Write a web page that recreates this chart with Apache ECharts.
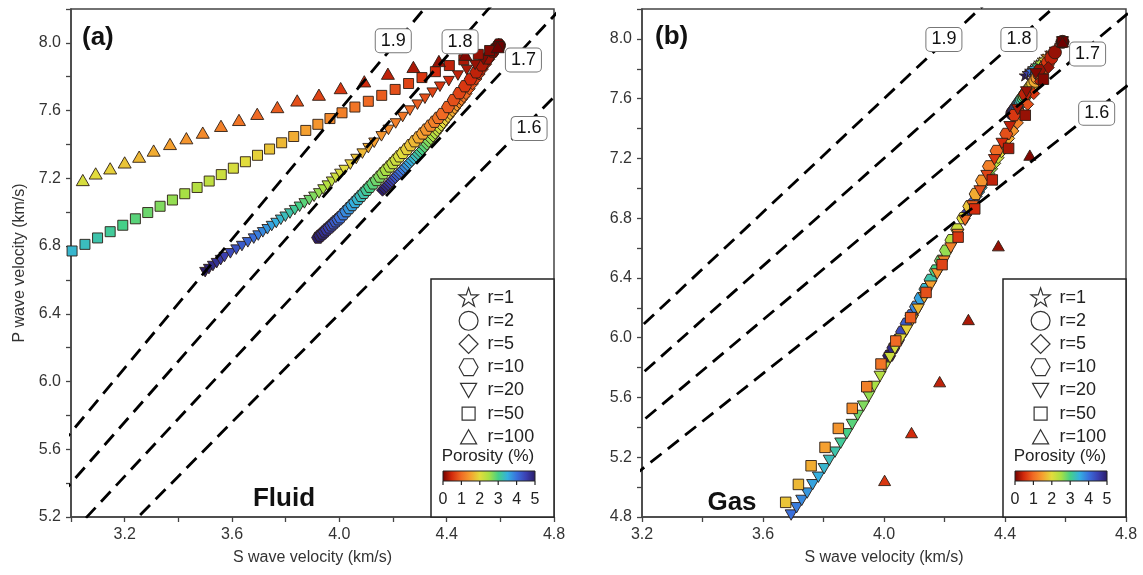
<!DOCTYPE html>
<html><head><meta charset="utf-8">
<script src="https://cdn.jsdelivr.net/npm/echarts/dist/echarts.min.js"></script>
<style>html,body{margin:0;padding:0;background:#fff}#c{width:1143px;height:575px}</style>
</head><body><div id="c"></div><script>
// ---------- colour scale (porosity 0 .. 5 %) ----------
const porosityColors = ['#6e0000','#d32a0c','#f06a24','#f5a030','#e2dc3c','#a8e044','#45d088','#34b0e0','#3a6fdc','#3b3fb0','#2a1c66'];
const porosityTicks = [0,1,2,3,4,5];
const seriesNames = ['r=1','r=2','r=5','r=10','r=20','r=50','r=100'];
const ratioLabels = ['1.9','1.8','1.7','1.6'];

// ---------- Vp/Vs guide lines (endpoints [Vs, Vp]) ----------
const fluidRatioLines = [
  [[2.7,5.13],[4.4,8.36]],
  [[2.8,5.04],[4.6,8.28]],
  [[3.0,5.10],[4.9,8.33]],
  [[3.2,5.12],[5.2,8.32]]
];
const gasRatioLines = [
  [[3.1,5.89],[4.4,8.36]],
  [[3.1,5.58],[4.6,8.28]],
  [[3.1,5.27],[4.9,8.33]],
  [[3.0,4.80],[5.2,8.32]]
];
const fluidLabelPos = [[4.201,8.012],[4.450,8.007],[4.686,7.899],[4.707,7.495]];
const gasLabelPos   = [[4.198,7.996],[4.446,7.996],[4.673,7.899],[4.703,7.502]];

// ---------- data: [Vs, Vp, porosity] ----------
const fluidR1 = [[4.595,7.985,0]];
const fluidR2 = [[4.595,7.985,0]];
const fluidR5 = [
[4.161,7.130,5.0],[4.168,7.141,4.9],[4.175,7.152,4.8],[4.182,7.163,4.7],[4.189,7.174,4.6],[4.196,7.185,4.5],
[4.202,7.196,4.4],[4.209,7.207,4.3],[4.216,7.218,4.2],[4.223,7.229,4.1],[4.230,7.240,4.0],
[4.238,7.253,3.9],[4.246,7.266,3.8],[4.254,7.279,3.7],[4.262,7.292,3.6],[4.270,7.305,3.5],
[4.278,7.318,3.4],[4.286,7.331,3.3],[4.294,7.344,3.2],[4.302,7.357,3.1],[4.310,7.370,3.0],
[4.318,7.386,2.9],[4.326,7.402,2.8],[4.333,7.418,2.7],[4.341,7.434,2.6],[4.349,7.450,2.5],
[4.357,7.466,2.4],[4.365,7.482,2.3],[4.372,7.498,2.2],[4.380,7.514,2.1],[4.388,7.530,2.0],
[4.396,7.547,1.9],[4.405,7.564,1.8],[4.413,7.581,1.7],[4.422,7.598,1.6],[4.430,7.615,1.5],
[4.438,7.632,1.4],[4.447,7.649,1.3],[4.455,7.666,1.2],[4.464,7.683,1.1],[4.472,7.700,1.0],
[4.484,7.729,0.9],[4.496,7.758,0.8],[4.509,7.787,0.7],[4.521,7.816,0.6],[4.533,7.845,0.5],
[4.545,7.874,0.4],[4.557,7.903,0.3],[4.570,7.932,0.2],[4.582,7.961,0.1],[4.594,7.990,0.0]];
const fluidR10 = [
[3.921,6.850,5.0],[3.929,6.862,4.9],[3.938,6.874,4.8],[3.946,6.886,4.7],[3.954,6.898,4.6],[3.963,6.910,4.5],
[3.971,6.922,4.4],[3.979,6.934,4.3],[3.987,6.946,4.2],[3.996,6.958,4.1],[4.004,6.970,4.0],
[4.015,6.988,3.9],[4.026,7.006,3.8],[4.037,7.024,3.7],[4.048,7.042,3.6],[4.059,7.060,3.5],
[4.070,7.078,3.4],[4.081,7.096,3.3],[4.092,7.114,3.2],[4.103,7.132,3.1],[4.114,7.150,3.0],
[4.126,7.170,2.9],[4.139,7.190,2.8],[4.151,7.210,2.7],[4.163,7.230,2.6],[4.175,7.250,2.5],
[4.188,7.270,2.4],[4.200,7.290,2.3],[4.212,7.310,2.2],[4.224,7.330,2.1],[4.237,7.350,2.0],
[4.252,7.373,1.9],[4.266,7.396,1.8],[4.281,7.419,1.7],[4.296,7.442,1.6],[4.311,7.465,1.5],
[4.325,7.488,1.4],[4.340,7.511,1.3],[4.355,7.534,1.2],[4.369,7.557,1.1],[4.384,7.580,1.0],
[4.405,7.621,0.9],[4.426,7.662,0.8],[4.447,7.703,0.7],[4.468,7.744,0.6],[4.489,7.785,0.5],
[4.510,7.826,0.4],[4.531,7.867,0.3],[4.552,7.908,0.2],[4.573,7.949,0.1],[4.594,7.990,0.0]];
const fluidR20 = [
[3.500,6.646,5.0],[3.514,6.664,4.9],[3.529,6.682,4.8],[3.543,6.699,4.7],[3.558,6.717,4.6],[3.572,6.735,4.5],
[3.594,6.757,4.4],[3.616,6.779,4.3],[3.637,6.800,4.2],[3.659,6.822,4.1],[3.681,6.844,4.0],
[3.698,6.862,3.9],[3.715,6.881,3.8],[3.732,6.899,3.7],[3.748,6.918,3.6],[3.765,6.936,3.5],
[3.782,6.955,3.4],[3.799,6.973,3.3],[3.816,6.992,3.2],[3.834,7.012,3.1],[3.852,7.032,3.0],
[3.870,7.052,2.9],[3.888,7.071,2.8],[3.906,7.091,2.7],[3.924,7.111,2.6],[3.940,7.134,2.5],
[3.956,7.157,2.4],[3.972,7.180,2.3],[3.987,7.203,2.2],[4.003,7.226,2.1],[4.019,7.249,2.0],
[4.041,7.281,1.9],[4.063,7.314,1.8],[4.086,7.346,1.7],[4.108,7.378,1.6],[4.130,7.410,1.5],
[4.157,7.448,1.4],[4.183,7.486,1.3],[4.210,7.524,1.2],[4.236,7.562,1.1],[4.263,7.600,1.0],
[4.291,7.635,0.9],[4.319,7.670,0.8],[4.347,7.706,0.7],[4.375,7.741,0.6],[4.408,7.774,0.5],
[4.442,7.807,0.4],[4.475,7.840,0.3],[4.506,7.870,0.2],[4.537,7.900,0.1],[4.585,7.965,0.0]];
const fluidR50 = [
[3.004,6.771,3.4],[3.052,6.810,3.3],[3.099,6.848,3.2],[3.146,6.885,3.1],[3.193,6.923,3.0],
[3.240,6.961,2.9],[3.286,6.998,2.8],[3.332,7.035,2.7],[3.378,7.072,2.6],[3.424,7.109,2.5],
[3.470,7.146,2.4],[3.515,7.184,2.3],[3.560,7.222,2.2],[3.605,7.260,2.1],[3.650,7.298,2.0],
[3.695,7.336,1.9],[3.740,7.373,1.8],[3.785,7.410,1.7],[3.830,7.447,1.6],[3.875,7.483,1.5],
[3.920,7.519,1.4],[3.965,7.553,1.3],[4.010,7.587,1.2],[4.058,7.621,1.1],[4.108,7.655,1.0],
[4.158,7.690,0.9],[4.208,7.725,0.8],[4.258,7.760,0.7],[4.308,7.795,0.6],[4.358,7.830,0.5],
[4.410,7.866,0.4],[4.464,7.900,0.3],[4.518,7.932,0.2],[4.560,7.955,0.1],[4.595,7.978,0.0]];
const fluidR100 = [
[3.044,7.190,2.1],[3.092,7.229,2.0],[3.146,7.259,1.9],[3.200,7.294,1.8],[3.254,7.328,1.7],
[3.308,7.364,1.6],[3.369,7.403,1.5],[3.430,7.437,1.4],[3.491,7.470,1.3],[3.559,7.510,1.2],
[3.626,7.545,1.1],[3.694,7.581,1.0],[3.769,7.621,0.9],[3.843,7.660,0.8],[3.924,7.694,0.7],
[4.005,7.733,0.6],[4.093,7.773,0.5],[4.181,7.818,0.4],[4.276,7.858,0.3],[4.371,7.893,0.2],
[4.470,7.930,0.1],[4.590,7.975,0.0]];

const gasR1 = [
[4.467,7.756,5.0],[4.476,7.772,4.5],[4.485,7.788,4.0],[4.495,7.805,3.5],[4.505,7.823,3.0],[4.515,7.842,2.5],
[4.526,7.862,2.0],[4.538,7.884,1.5],[4.551,7.908,1.0],[4.566,7.935,0.5],[4.590,7.980,0.0]];
const gasR2 = [
[4.424,7.500,5.0],[4.427,7.509,4.8],[4.430,7.518,4.6],[4.434,7.528,4.4],[4.437,7.538,4.2],[4.441,7.548,4.0],
[4.444,7.559,3.8],[4.448,7.570,3.6],[4.452,7.582,3.4],[4.456,7.594,3.2],[4.461,7.607,3.0],
[4.465,7.620,2.8],[4.470,7.634,2.6],[4.475,7.649,2.4],[4.481,7.665,2.2],[4.487,7.682,2.0],
[4.493,7.700,1.8],[4.500,7.719,1.6],[4.507,7.740,1.4],[4.514,7.762,1.2],[4.523,7.786,1.0],
[4.532,7.812,0.8],[4.542,7.841,0.6],[4.553,7.873,0.4],[4.565,7.910,0.2],[4.590,7.980,0.0]];
const gasR5 = [
[4.265,6.800,5.0],[4.271,6.822,4.8],[4.277,6.845,4.6],[4.284,6.869,4.4],[4.291,6.894,4.2],[4.298,6.920,4.0],
[4.305,6.947,3.8],[4.313,6.975,3.6],[4.321,7.004,3.4],[4.329,7.034,3.2],[4.338,7.065,3.0],
[4.347,7.097,2.8],[4.356,7.131,2.6],[4.366,7.167,2.4],[4.377,7.205,2.2],[4.388,7.245,2.0],
[4.399,7.288,1.8],[4.412,7.334,1.6],[4.426,7.384,1.4],[4.441,7.438,1.2],[4.457,7.497,1.0],
[4.475,7.562,0.8],[4.495,7.634,0.6],[4.517,7.715,0.4],[4.543,7.808,0.2],[4.590,7.980,0.0]];
const gasR10 = [
[4.017,5.880,5.0],[4.031,5.932,4.8],[4.046,5.985,4.6],[4.060,6.039,4.4],[4.075,6.094,4.2],[4.091,6.150,4.0],
[4.106,6.207,3.8],[4.121,6.265,3.6],[4.137,6.325,3.4],[4.154,6.387,3.2],[4.171,6.450,3.0],
[4.188,6.515,2.8],[4.205,6.583,2.6],[4.223,6.653,2.4],[4.242,6.725,2.2],[4.262,6.800,2.0],
[4.282,6.879,1.8],[4.303,6.962,1.6],[4.324,7.051,1.4],[4.347,7.147,1.2],[4.372,7.250,1.0],
[4.404,7.364,0.8],[4.430,7.490,0.6],[4.466,7.630,0.4],[4.513,7.790,0.2],[4.590,7.980,0.0]];
const gasR20 = [
[3.693,4.813,4.0],[3.711,4.862,3.9],[3.728,4.911,3.8],[3.746,4.960,3.7],[3.764,5.016,3.6],[3.783,5.066,3.5],
[3.802,5.123,3.4],[3.819,5.179,3.3],[3.838,5.234,3.2],[3.857,5.294,3.1],[3.877,5.357,3.0],
[3.895,5.419,2.9],[3.913,5.480,2.8],[3.932,5.542,2.7],[3.950,5.607,2.6],[3.968,5.674,2.5],
[3.987,5.741,2.4],[4.003,5.803,2.3],[4.020,5.866,2.2],[4.036,5.925,2.1],[4.056,5.990,2.0],
[4.075,6.050,1.9],[4.094,6.117,1.8],[4.113,6.190,1.7],[4.133,6.266,1.6],[4.154,6.345,1.5],
[4.176,6.427,1.4],[4.198,6.512,1.3],[4.221,6.600,1.2],[4.244,6.691,1.1],[4.268,6.785,1.0],
[4.293,6.882,0.9],[4.317,6.982,0.8],[4.340,7.085,0.7],[4.365,7.191,0.6],[4.390,7.300,0.5],
[4.416,7.412,0.4],[4.442,7.527,0.3],[4.471,7.645,0.2],[4.502,7.766,0.1],[4.590,7.980,0.0]];
const gasR50 = [
[3.675,4.898,1.8],[3.717,5.018,1.7],[3.759,5.143,1.6],[3.805,5.266,1.5],[3.849,5.393,1.4],
[3.895,5.527,1.3],[3.943,5.672,1.2],[3.990,5.824,1.1],[4.039,5.978,1.0],[4.088,6.134,0.9],
[4.139,6.303,0.8],[4.192,6.489,0.7],[4.245,6.673,0.6],[4.300,6.862,0.5],[4.358,7.056,0.4],
[4.412,7.267,0.3],[4.467,7.489,0.2],[4.527,7.730,0.1],[4.590,7.980,0.0]];
const gasR100 = [
[4.590,7.980,0.0],[4.482,7.222,0.1],[4.378,6.616,0.2],[4.279,6.122,0.3],[4.184,5.706,0.4],[4.091,5.365,0.5],[4.002,5.045,0.6]];

// ---------- symbols ----------
const SYM = {
  'r=1': 'path://M50,6 L60.35,37.76 L93.75,37.8 L66.74,57.44 L77,89.2 L50,69.6 L23,89.2 L33.26,57.44 L6.25,37.8 L39.65,37.76 Z',
  'r=2': 'circle',
  'r=5': 'diamond',
  'r=10': 'path://M0,50 L25,6.7 L75,6.7 L100,50 L75,93.3 L25,93.3 Z',
  'r=20': 'path://M0,0 L100,0 L50,86.6 Z',
  'r=50': 'rect',
  'r=100': 'path://M50,0 L100,86.6 L0,86.6 Z'
};
const B = 'path://M0,0 M100,100 ';
const LEG_ICON = {
  'r=1': B+'M50,6 L60.35,37.76 L93.75,37.8 L66.74,57.44 L77,89.2 L50,69.6 L23,89.2 L33.26,57.44 L6.25,37.8 L39.65,37.76 Z',
  'r=2': B+'M7,50 A43,43 0 1 1 93,50 A43,43 0 1 1 7,50 Z',
  'r=5': B+'M50,7 L93,50 L50,93 L7,50 Z',
  'r=10': B+'M7,50 L28.5,11.5 L71.5,11.5 L93,50 L71.5,88.5 L28.5,88.5 Z',
  'r=20': B+'M13.5,18 L86.5,18 L50,82 Z',
  'r=50': B+'M20.5,20.5 L79.5,20.5 L79.5,79.5 L20.5,79.5 Z',
  'r=100': B+'M50,18 L86.5,82 L13.5,82 Z'
};

const FONT = '"Liberation Sans", Arial, Helvetica, sans-serif';
const chart = echarts.init(document.getElementById('c'), null, {renderer:'canvas'});

function ratioLine(data, gi, label, coord){
  return {type:'line', name:'Vp/Vs '+label, data, xAxisIndex:gi, yAxisIndex:gi, symbol:'none', silent:true, z:3,
    animation:false, lineStyle:{color:'#000', width:2.8, type:[14,8]},
    markPoint:{symbol:'rect', symbolSize:1, itemStyle:{color:'rgba(0,0,0,0)'}, silent:true, animation:false,
      label:{show:true, position:'inside', formatter:label, fontSize:18, fontFamily:FONT, color:'#111',
        backgroundColor:'#fff', borderColor:'#777', borderWidth:1, borderRadius:4, padding:[3,5,2,5]},
      data:[{coord}]}};
}
function scat(name, data, gi, size){
  return {type:'scatter', name, data, xAxisIndex:gi, yAxisIndex:gi, symbol:SYM[name], symbolSize:size,
    symbolKeepAspect:true, z:2, animation:false, emphasis:{disabled:true},
    itemStyle:{borderColor:'#2b1d14', borderWidth:0.9, opacity:1}};
}
const series = [];
for (let i=0;i<4;i++) series.push(ratioLine(fluidRatioLines[i],0,ratioLabels[i],fluidLabelPos[i]));
for (let i=0;i<4;i++) series.push(ratioLine(gasRatioLines[i],1,ratioLabels[i],gasLabelPos[i]));
const nLines = series.length;
series.push(scat('r=1', fluidR1, 0, 12));
series.push(scat('r=2', fluidR2, 0, 13));
series.push(scat('r=5', fluidR5, 0, 12));
series.push(scat('r=10', fluidR10, 0, 13));
series.push(scat('r=20', fluidR20, 0, 11));
series.push(scat('r=50', fluidR50, 0, 10));
series.push(scat('r=100', fluidR100, 0, 13));
series.push(scat('r=1', gasR1, 1, 12));
series.push(scat('r=2', gasR2, 1, 13));
series.push(scat('r=5', gasR5, 1, 12));
series.push(scat('r=10', gasR10, 1, 13));
series.push(scat('r=20', gasR20, 1, 12));
series.push(scat('r=50', gasR50, 1, 10.5));
series.push(scat('r=100', gasR100, 1, 12));
const scatIdx = []; for (let i=nLines;i<series.length;i++) scatIdx.push(i);

const lab = v => (Math.round(v*10) % 4 === 0 ? v.toFixed(1) : '');
function axis(extra){
  return Object.assign({type:'value', splitLine:{show:false},
    axisLine:{show:true, onZero:false, lineStyle:{color:'#444', width:1.5}},
    axisTick:{show:true, length:5, lineStyle:{color:'#444', width:1.3}},
    axisLabel:{fontSize:16, color:'#333', margin:10, formatter:lab, fontFamily:FONT},
    nameTextStyle:{fontSize:16, color:'#333', fontFamily:FONT}}, extra);
}

function legendFor(left){
  return {orient:'vertical', left, top:286, padding:0, itemWidth:22, itemHeight:22, itemGap:0, selectedMode:false, z:6,
    textStyle:{fontSize:18, color:'#222', fontFamily:FONT, padding:[0,0,0,3]},
    itemStyle:{color:'#fff', borderColor:'#333', borderWidth:1.2},
    data: seriesNames.map(n => ({name:n, icon:LEG_ICON[n], itemStyle:{color:'#fff', borderColor:'#333', borderWidth:1.2}}))};
}

function legendBoxGraphics(left){
  const g = [];
  g.push({type:'rect', z:1, shape:{x:left, y:279, width:123, height:238}, style:{fill:'#fff', stroke:'#222', lineWidth:1.5}});
  g.push({type:'text', z:7, x:left+57, y:456, style:{text:'Porosity (%)', font:'17px '+FONT, fill:'#222', textAlign:'center', textVerticalAlign:'middle', verticalAlign:'middle'}});
  g.push({type:'rect', z:7, shape:{x:left+12, y:471, width:92, height:10},
    style:{fill:{type:'linear', x:0, y:0, x2:1, y2:0, colorStops:porosityColors.map((c,i)=>({offset:i/(porosityColors.length-1), color:c}))}, stroke:'#222', lineWidth:1}});
  porosityTicks.forEach((t,i) => {
    const x = left+12 + t*92/5;
    g.push({type:'line', z:7, shape:{x1:x, y1:481, x2:x, y2:485}, style:{stroke:'#222', lineWidth:1.2}});
    g.push({type:'text', z:7, x:x, y:500, style:{text:String(t), font:'16px '+FONT, fill:'#222', textAlign:'center', textVerticalAlign:'middle', verticalAlign:'middle'}});
  });
  return g;
}
function bigText(txt, x, y){
  return {type:'text', z:7, x, y, style:{text:txt, font:'bold 26px '+FONT, fill:'#111', textAlign:'center', textVerticalAlign:'middle', verticalAlign:'middle'}};
}

const option = {
  backgroundColor:'#fff',
  animation:false,
  textStyle:{fontFamily:FONT},
  grid:[
    {left:71, top:9, width:483, height:508, show:true, borderColor:'#444', borderWidth:1.5, backgroundColor:'rgba(0,0,0,0)'},
    {left:642, top:9, width:484, height:508, show:true, borderColor:'#444', borderWidth:1.5, backgroundColor:'rgba(0,0,0,0)'}
  ],
  xAxis:[
    axis({gridIndex:0, min:3.0, max:4.8, interval:0.2, name:'S wave velocity (km/s)', nameLocation:'middle', nameGap:33}),
    axis({gridIndex:1, min:3.2, max:4.8, interval:0.2, name:'S wave velocity (km/s)', nameLocation:'middle', nameGap:33})
  ],
  yAxis:[
    axis({gridIndex:0, min:5.2, max:8.2, interval:0.2, name:'P wave velocity (km/s)', nameLocation:'middle', nameGap:43}),
    axis({gridIndex:1, min:4.8, max:8.2, interval:0.2})
  ],
  visualMap:{type:'continuous', show:false, min:0, max:5, dimension:2, seriesIndex:scatIdx, inRange:{color:porosityColors}},
  legend:[legendFor(457), legendFor(1029)],
  graphic:[].concat(
    legendBoxGraphics(431), legendBoxGraphics(1003),
    [{type:'text', z:7, x:82, y:38, style:{text:'(a)', font:'bold 26px '+FONT, fill:'#111', textAlign:'left', textVerticalAlign:'middle', verticalAlign:'middle'}},
     {type:'text', z:7, x:655, y:37, style:{text:'(b)', font:'bold 26px '+FONT, fill:'#111', textAlign:'left', textVerticalAlign:'middle', verticalAlign:'middle'}},
     bigText('Fluid', 284, 499), bigText('Gas', 732, 503)]
  ),
  series
};
chart.setOption(option);
</script></body></html>
